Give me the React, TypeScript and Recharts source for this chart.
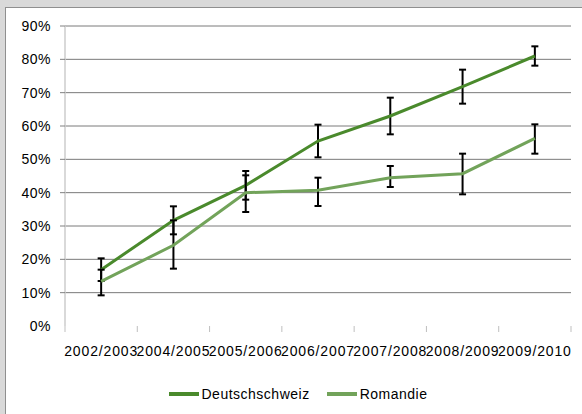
import React from 'react';
import { LineChart, Line, XAxis, YAxis, CartesianGrid, Legend, ErrorBar } from 'recharts';

const categories = ['2002/2003', '2004/2005', '2005/2006', '2006/2007', '2007/2008', '2008/2009', '2009/2010'];
const deutschschweiz = [0.169, 0.317, 0.422, 0.555, 0.63, 0.718, 0.81];
const deutschschweizErr = [0.034, 0.042, 0.043, 0.049, 0.055, 0.051, 0.029];
const romandie = [0.134, 0.242, 0.4, 0.407, 0.445, 0.457, 0.563];
const romandieErr: [number, number][] = [
  [0.042, 0.035],
  [0.07, 0.075],
  [0.058, 0.052],
  [0.047, 0.038],
  [0.028, 0.035],
  [0.062, 0.06],
  [0.046, 0.042],
];
const yTicks = [0, 0.1, 0.2, 0.3, 0.4, 0.5, 0.6, 0.7, 0.8, 0.9];

const data = categories.map((c, i) => ({
  cat: c,
  Deutschschweiz: deutschschweiz[i],
  dErr: deutschschweizErr[i],
  Romandie: romandie[i],
  rErr: romandieErr[i],
}));

const FONT = '"Liberation Sans", Arial, sans-serif';
const D_COLOR = '#4a8a2c';
const R_COLOR = '#72a35a';
const PLOT_W = 582 - 65 - 11;

const XTick = (props: any) => {
  const { x, y, payload, index } = props;
  const off = payload && typeof payload.offset === 'number' && payload.offset > 0 ? payload.offset : PLOT_W / categories.length / 2;
  const axisY = y - 20;
  const isLast = index === categories.length - 1;
  return (
    <g>
      <line x1={x - off} y1={axisY} x2={x - off} y2={axisY + 6} stroke="#bfbfbf" strokeWidth={1} />
      {isLast && <line x1={x + off} y1={axisY} x2={x + off} y2={axisY + 6} stroke="#bfbfbf" strokeWidth={1} />}
      <text x={x} y={y} dy="0.71em" textAnchor="middle" fontSize={14} fill="#000" fontFamily={FONT} letterSpacing={0.85}>
        {payload.value}
      </text>
    </g>
  );
};

const YTick = (props: any) => {
  const { x, y, payload } = props;
  return (
    <g>
      {payload.value > 0 && <line x1={x + 9} y1={y} x2={x + 14} y2={y} stroke="#808080" strokeWidth={1} />}
      <text x={x} y={y} dy="0.36em" textAnchor="end" fontSize={14} fill="#000" fontFamily={FONT} letterSpacing={0.5}>
        {Math.round(payload.value * 100) + '%'}
      </text>
    </g>
  );
};

const renderLegend = (props: any) => {
  const { payload } = props;
  return (
    <div style={{ display: 'flex', justifyContent: 'center', alignItems: 'center', height: 20, paddingLeft: 14, fontFamily: FONT, fontSize: 14, letterSpacing: 0.5, color: '#000' }}>
      {(payload || []).map((p: any, i: number) => (
        <div key={i} style={{ display: 'flex', alignItems: 'center', marginRight: i === 0 ? 17 : 0 }}>
          <svg width={30} height={6} style={{ marginRight: 3 }}>
            <line x1={0} y1={3} x2={30} y2={3} stroke={p.color} strokeWidth={4} />
          </svg>
          <span>{p.value}</span>
        </div>
      ))}
    </div>
  );
};

export default function App() {
  return (
    <div style={{ position: 'absolute', left: 0, top: 0, width: 582, height: 414, background: '#d9d9d9', overflow: 'hidden' }}>
      <div style={{ position: 'absolute', left: 5, top: 7, width: 600, height: 420, background: '#fff', borderLeft: '1px solid #8f8f8f', borderTop: '1px solid #8f8f8f' }} />
      <div style={{ position: 'absolute', left: 0, top: 0 }}>
        <LineChart width={582} height={414} data={data} margin={{ top: 26, right: 11, left: 0, bottom: 10 }}>
          <CartesianGrid horizontal vertical={false} stroke="#7a7a7a" strokeWidth={1} horizontalValues={yTicks.slice(1)} />
          <XAxis dataKey="cat" scale="band" height={58} axisLine={false} tickLine={false} tickSize={6} tickMargin={14} interval={0} tick={<XTick />} />
          <YAxis width={65} domain={[0, 0.9]} ticks={yTicks} interval={0} axisLine={{ stroke: '#cccccc', strokeWidth: 1.5 }} tickLine={false} tickSize={5} tickMargin={9} tick={<YTick />} />
          <Legend verticalAlign="bottom" height={20} content={renderLegend} wrapperStyle={{ left: 0, width: 582 }} />
          <Line type="linear" dataKey="Deutschschweiz" stroke={D_COLOR} strokeWidth={3} dot={false} isAnimationActive={false}>
            <ErrorBar dataKey="dErr" direction="y" width={3.5} stroke="#000" strokeWidth={2} isAnimationActive={false} />
          </Line>
          <Line type="linear" dataKey="Romandie" stroke={R_COLOR} strokeWidth={3} dot={false} isAnimationActive={false}>
            <ErrorBar dataKey="rErr" direction="y" width={3.5} stroke="#000" strokeWidth={2} isAnimationActive={false} />
          </Line>
        </LineChart>
      </div>
    </div>
  );
}
